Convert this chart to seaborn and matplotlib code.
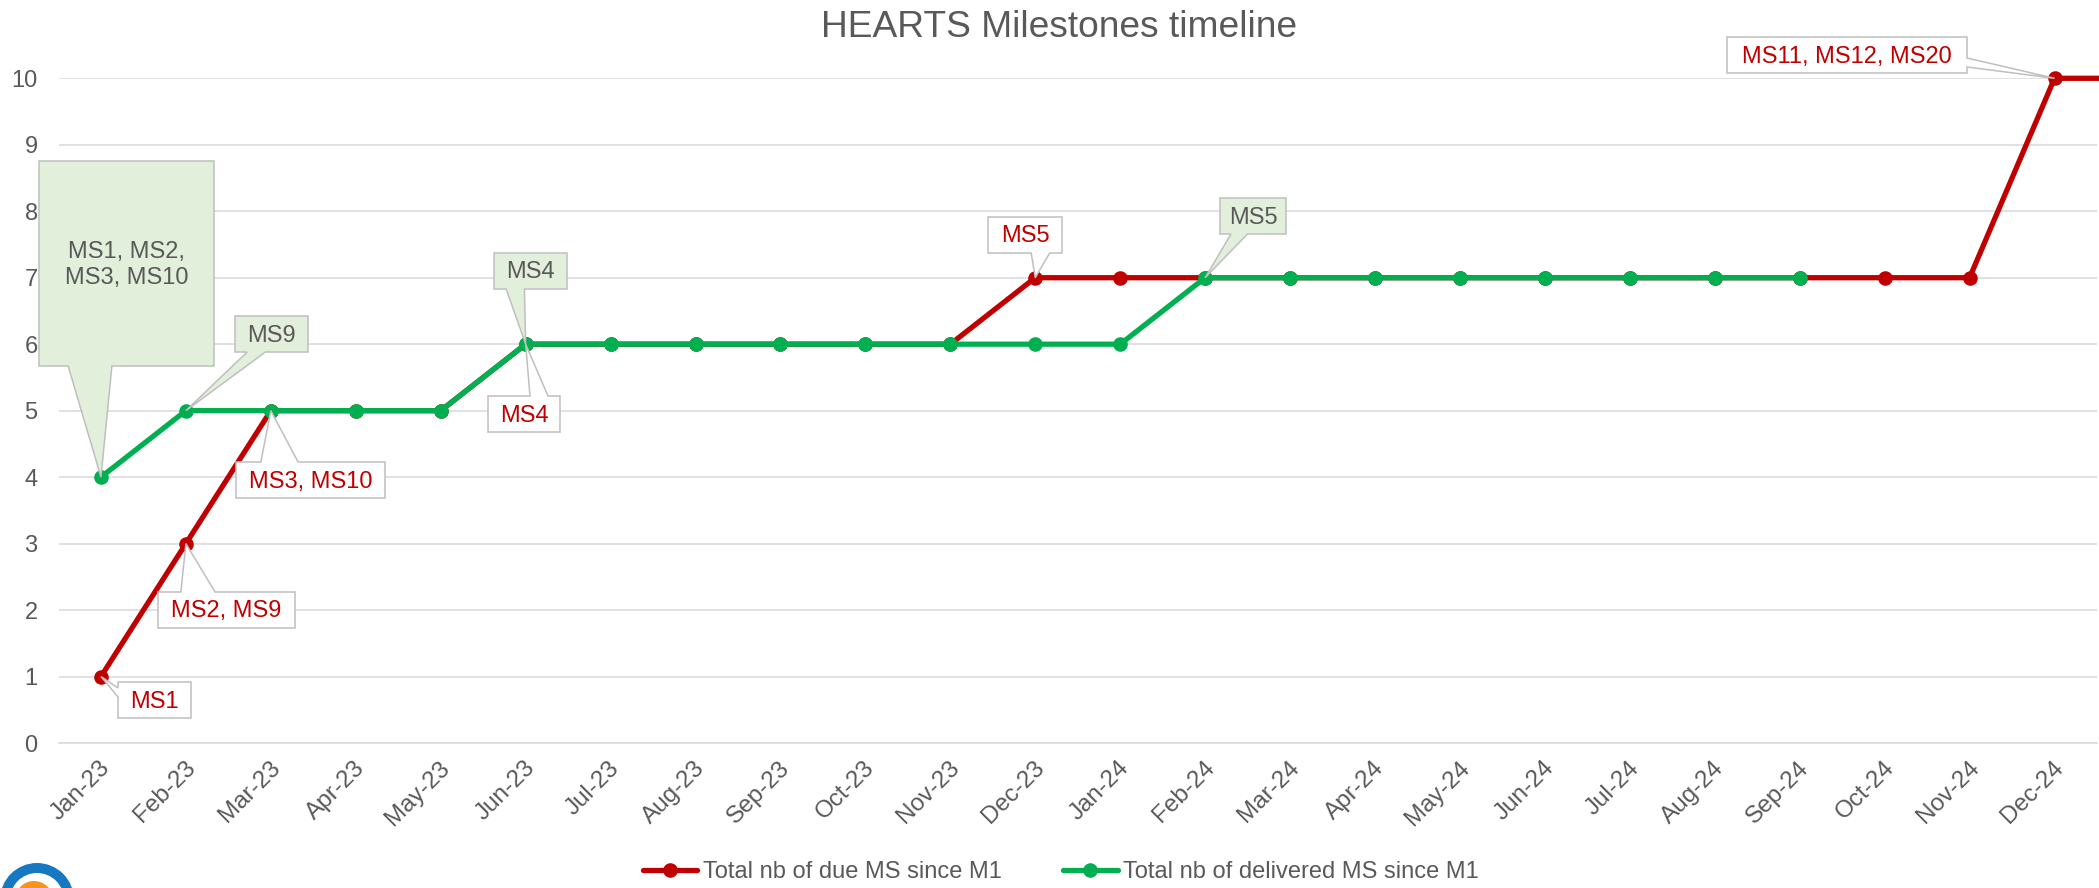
import numpy as np
import pandas as pd
import matplotlib.pyplot as plt
import matplotlib.patches as mpatches
import matplotlib.transforms as mtransforms
import seaborn as sns

# monthly data (last month is past the axis end, the red line just runs off the edge)
months = ['Jan-23', 'Feb-23', 'Mar-23', 'Apr-23', 'May-23', 'Jun-23', 'Jul-23', 'Aug-23',
          'Sep-23', 'Oct-23', 'Nov-23', 'Dec-23', 'Jan-24', 'Feb-24', 'Mar-24', 'Apr-24',
          'May-24', 'Jun-24', 'Jul-24', 'Aug-24', 'Sep-24', 'Oct-24', 'Nov-24', 'Dec-24', 'Jan-25']
due_ms = [1, 3, 5, 5, 5, 6, 6, 6, 6, 6, 6, 7, 7, 7, 7, 7, 7, 7, 7, 7, 7, 7, 7, 10, 10]
delivered_ms = [4, 5, 5, 5, 5, 6, 6, 6, 6, 6, 6, 6, 6, 7, 7, 7, 7, 7, 7, 7, 7]

# data labels: (month index, value, label text)
due_labels = [(0, 1, 'MS1'), (1, 3, 'MS2, MS9'), (2, 5, 'MS3, MS10'), (5, 6, 'MS4'),
              (11, 7, 'MS5'), (23, 10, 'MS11, MS12, MS20')]
delivered_labels = [(0, 4, 'MS1, MS2,\nMS3, MS10'), (1, 5, 'MS9'), (5, 6, 'MS4'), (13, 7, 'MS5')]

# label box positions in image pixels (left, top, right, bottom)
due_boxes = [(118, 682, 191, 718), (158, 592, 295, 628), (236, 462, 385, 498),
             (488, 396, 560, 432), (988, 217, 1062, 253), (1727, 37, 1967, 73)]
delivered_boxes = [(39, 161, 214, 366), (235, 316, 308, 352), (494, 253, 567, 289),
                   (1220, 198, 1286, 234)]

RED = '#C00000'
GREEN = '#00B050'
GREY_TXT = '#595959'
GRID = '#D9D9D9'
W, H = 2099, 888

sns.set_style('white')
plt.rcParams['font.family'] = ['Liberation Sans', 'DejaVu Sans']

df = pd.DataFrame({'idx': np.arange(len(months)), 'month': months, 'due': due_ms})
df['delivered'] = pd.Series(delivered_ms)

fig = plt.figure(figsize=(W / 100, H / 100), dpi=100)
ax = fig.add_axes([58.5 / W, (H - 743) / H, (2097 - 58.5) / W, (743 - 78.3) / H])

sns.lineplot(data=df, x='idx', y='due', ax=ax, color=RED, lw=3.8, marker='o', markersize=10.5,
             markeredgewidth=0, sort=False, label='Total nb of due MS since M1', clip_on=False)
sns.lineplot(data=df.dropna(), x='idx', y='delivered', ax=ax, color=GREEN, lw=3.8, marker='o',
             markersize=10.5, markeredgewidth=0, sort=False,
             label='Total nb of delivered MS since M1', clip_on=False)

ax.set_xlim(-0.5, 23.5)
ax.set_ylim(0, 10)
ax.set_xlabel('')
ax.set_ylabel('')
ax.set_yticks(range(11))
ax.yaxis.grid(True, color=GRID, lw=1.1)
ax.xaxis.grid(False)
ax.set_axisbelow(True)
for s in ['top', 'right', 'left']:
    ax.spines[s].set_visible(False)
ax.spines['bottom'].set_color(GRID)
ax.spines['bottom'].set_linewidth(1.1)

ax.set_xticks(np.arange(24))
ax.set_xticklabels(months[:24])
ax.set_xticks(np.arange(-0.5, 24, 1), minor=True)
ax.tick_params(axis='x', which='major', length=0, pad=17, labelsize=17.5, labelcolor=GREY_TXT)
ax.tick_params(axis='x', which='minor', length=4.7, width=1.1, color=GRID)
ax.tick_params(axis='y', length=0, pad=15, labelsize=17, labelcolor=GREY_TXT)
plt.setp(ax.get_xticklabels(), rotation=45, ha='right', va='center', rotation_mode='anchor')
shift = mtransforms.ScaledTranslation(6 / 100, 2 / 100, fig.dpi_scale_trans)
for lab in ax.get_xticklabels():
    lab.set_transform(lab.get_transform() + shift)

ax.legend(loc='center', bbox_to_anchor=(1061 / W, 16 / H), bbox_transform=fig.transFigure,
          ncol=2, frameon=False, fontsize=17, handlelength=2.3, handletextpad=0.25,
          columnspacing=2.6, labelcolor=GREY_TXT)

fig.text(1059 / W, (H - 37.3) / H, 'HEARTS Milestones timeline', ha='center', va='baseline',
         fontsize=26.7, color=GREY_TXT)


# Excel style rectangular callout with a wedge pointing at the data point
def callout(xi, yv, box, text, fc, tc):
    x0, top, x1, bot = box
    y0, y1 = H - bot, H - top
    tx, ty = ax.transData.transform((xi, yv))
    w, h = x1 - x0, y1 - y0
    dx = (tx - (x0 + x1) / 2) / w
    dy = (ty - (y0 + y1) / 2) / h
    tip = (tx, ty)
    if abs(dy) >= abs(dx):
        a, b = (x0 + w / 6, x0 + w * 5 / 12) if dx < 0 else (x0 + w * 7 / 12, x0 + w * 5 / 6)
        if dy < 0:
            pts = [(x0, y0), (a, y0), tip, (b, y0), (x1, y0), (x1, y1), (x0, y1)]
        else:
            pts = [(x0, y0), (x1, y0), (x1, y1), (b, y1), tip, (a, y1), (x0, y1)]
    else:
        a, b = (y1 - h * 5 / 12, y1 - h / 6) if dy > 0 else (y1 - h * 5 / 6, y1 - h * 7 / 12)
        if dx > 0:
            pts = [(x0, y0), (x1, y0), (x1, a), tip, (x1, b), (x1, y1), (x0, y1)]
        else:
            pts = [(x0, y0), (x1, y0), (x1, y1), (x0, y1), (x0, b), tip, (x0, a)]
    pts = [(px / W, py / H) for px, py in pts]
    fig.add_artist(mpatches.Polygon(pts, closed=True, transform=fig.transFigure, fc=fc,
                                    ec='#BFBFBF', lw=1.1, zorder=5))
    fig.text((x0 + x1) / 2 / W, ((y0 + y1) / 2 - 1.5) / H, text, ha='center', va='center',
             multialignment='center', fontsize=17, color=tc, zorder=6)


for (xi, yv, t), bx in zip(due_labels, due_boxes):
    callout(xi, yv, bx, t, 'white', RED)
for (xi, yv, t), bx in zip(delivered_labels, delivered_boxes):
    callout(xi, yv, bx, t, '#E2EFDA', GREY_TXT)

# partial logo in the bottom left corner
fig.add_artist(mpatches.Wedge((0.37, -0.12), 0.37, 0, 180, width=0.10, fc='#1778C2', ec='none',
                              transform=fig.dpi_scale_trans))
fig.add_artist(mpatches.Circle((0.34, -0.12), 0.19, fc='#F7941D', ec='none',
                               transform=fig.dpi_scale_trans))

fig.savefig('out.png', dpi=100)
